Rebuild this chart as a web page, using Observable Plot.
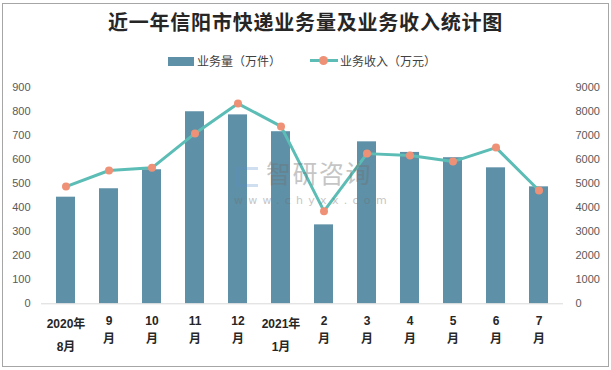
<!DOCTYPE html>
<html>
<head>
<meta charset="utf-8">
<script src="https://cdn.jsdelivr.net/npm/d3@7"></script>
<script src="https://cdn.jsdelivr.net/npm/@observablehq/plot@0.6"></script>
<style>
  html, body { margin: 0; padding: 0; background: #fff; }
  #wrap { position: relative; width: 611px; height: 370px; overflow: hidden; background: #fff; font-family: "Noto Sans CJK SC", "Noto Sans", sans-serif; }
  #frame { position: absolute; left: 2px; top: 3px; width: 605px; height: 362px; border: 1px solid #a6a6a6; pointer-events: none; }
  #title { position: absolute; left: 0; top: 8px; width: 611px; text-align: center; font-size: 20px; font-weight: 700; color: #262626; line-height: 28px; letter-spacing: 0.8px; }
  .lg { position: absolute; font-size: 12px; color: #404040; line-height: 16px; top: 53px; white-space: nowrap; }
  #sw1 { position: absolute; left: 168px; top: 57px; width: 26px; height: 9px; }
  #sw2 { position: absolute; left: 310px; top: 59px; width: 28px; height: 3px; }
  #sw2dot { position: absolute; left: 319px; top: 56px; width: 9px; height: 9px; border-radius: 50%; }
  #chart { position: absolute; left: 0; top: 75px; }
  #wm { position: absolute; left: 232px; top: 164px; pointer-events: none; opacity: 0.4; color: #707070; }
  #wm .big { position: absolute; left: 34px; top: -4px; font-size: 25px; letter-spacing: 1.5px; white-space: nowrap; line-height: 25px; }
  #wm .small { position: absolute; left: 2px; top: 31px; font-size: 11px; line-height: 11px; letter-spacing: 5.3px; white-space: nowrap; font-family: "DejaVu Sans", sans-serif; }
  #wm .logo { position: absolute; left: 4px; top: 3px; width: 22px; height: 20px; border: 3px solid #5b8fc8; border-right: none; box-sizing: border-box; opacity: 0.7; }
</style>
</head>
<body>
<div id="wrap">
  <div id="title"></div>
  <div id="sw1"></div><div class="lg" id="lg1" style="left:197px"></div>
  <div id="sw2"></div><div id="sw2dot"></div><div class="lg" id="lg2" style="left:340px"></div>
  <div id="chart"></div>
  <div id="wm"><div class="logo"></div><div class="big">智研咨询</div><div class="small">www.chyxx.com</div></div>
  <div id="frame"></div>
</div>
<script>
// ---- data ----
const titleText = "近一年信阳市快递业务量及业务收入统计图";
const seriesNames = ["业务量（万件）", "业务收入（万元）"];
const months = ["2020年8月", "9月", "10月", "11月", "12月", "2021年1月", "2月", "3月", "4月", "5月", "6月", "7月"];
const labelTop = ["2020年", "9", "10", "11", "12", "2021年", "2", "3", "4", "5", "6", "7"];
const labelBottom = ["8月", "月", "月", "月", "月", "1月", "月", "月", "月", "月", "月", "月"];
const volume = [443, 478, 557, 798, 785, 715, 328, 673, 629, 607, 565, 486];
const revenue = [4870, 5540, 5650, 7080, 8320, 7370, 3850, 6240, 6160, 5910, 6490, 4710];
const leftTicks = [0, 100, 200, 300, 400, 500, 600, 700, 800, 900];
const rightTicks = [0, 1000, 2000, 3000, 4000, 5000, 6000, 7000, 8000, 9000];

const barColor = "#5e90a7";
const lineColor = "#5bbdb5";
const dotColor = "#ef9177";

const data = months.map((m, i) => ({
  month: m, volume: volume[i], revenue: revenue[i],
  top: labelTop[i], bottom: labelBottom[i], year: labelTop[i].includes("年")
}));

document.getElementById("title").textContent = titleText;
document.getElementById("lg1").textContent = seriesNames[0];
document.getElementById("lg2").textContent = seriesNames[1];
document.getElementById("sw1").style.background = barColor;
document.getElementById("sw2").style.background = lineColor;
document.getElementById("sw2dot").style.background = dotColor;

const labelFont = { fontSize: 12, fontWeight: "bold", fill: "#262626", fontFamily: "'Liberation Sans', 'Noto Sans CJK SC', sans-serif", textAnchor: "middle", lineAnchor: "middle" };

const chart = Plot.plot({
  width: 611,
  height: 295,
  marginLeft: 41,
  marginRight: 48,
  marginTop: 11.7,
  marginBottom: 66.7,
  style: { background: "transparent", color: "#595959", fontFamily: "'Liberation Sans', sans-serif", fontSize: "11px", overflow: "visible" },
  x: { domain: months, paddingInner: 0.56, paddingOuter: 0.28, axis: null },
  y: { domain: [0, 900], axis: null },
  marks: [
    Plot.barY(data, { x: "month", y: "volume", fill: barColor }),
    Plot.ruleY([0], { stroke: "#d9d9d9", strokeWidth: 1 }),
    Plot.line(data, { x: "month", y: d => d.revenue / 10, stroke: lineColor, strokeWidth: 3 }),
    Plot.dot(data, { x: "month", y: d => d.revenue / 10, r: 4, fill: dotColor, stroke: "none" }),
    Plot.axisY(leftTicks, { anchor: "left", tickSize: 0, tickPadding: 11, label: null, fontSize: 11 }),
    Plot.axisY(leftTicks, { anchor: "right", tickSize: 0, tickPadding: 12, label: null, fontSize: 11,
      tickFormat: d => String(rightTicks[leftTicks.indexOf(d)]) }),
    Plot.text(data.filter(d => !d.year), { x: "month", y: () => 0, text: "top", dy: 17.7, ...labelFont }),
    Plot.text(data.filter(d => !d.year), { x: "month", y: () => 0, text: "bottom", dy: 35.7, ...labelFont }),
    Plot.text(data.filter(d => d.year), { x: "month", y: () => 0, text: "top", dy: 20.7, ...labelFont }),
    Plot.text(data.filter(d => d.year), { x: "month", y: () => 0, text: "bottom", dy: 43.7, ...labelFont })
  ]
});
document.getElementById("chart").appendChild(chart);
</script>
</body>
</html>
